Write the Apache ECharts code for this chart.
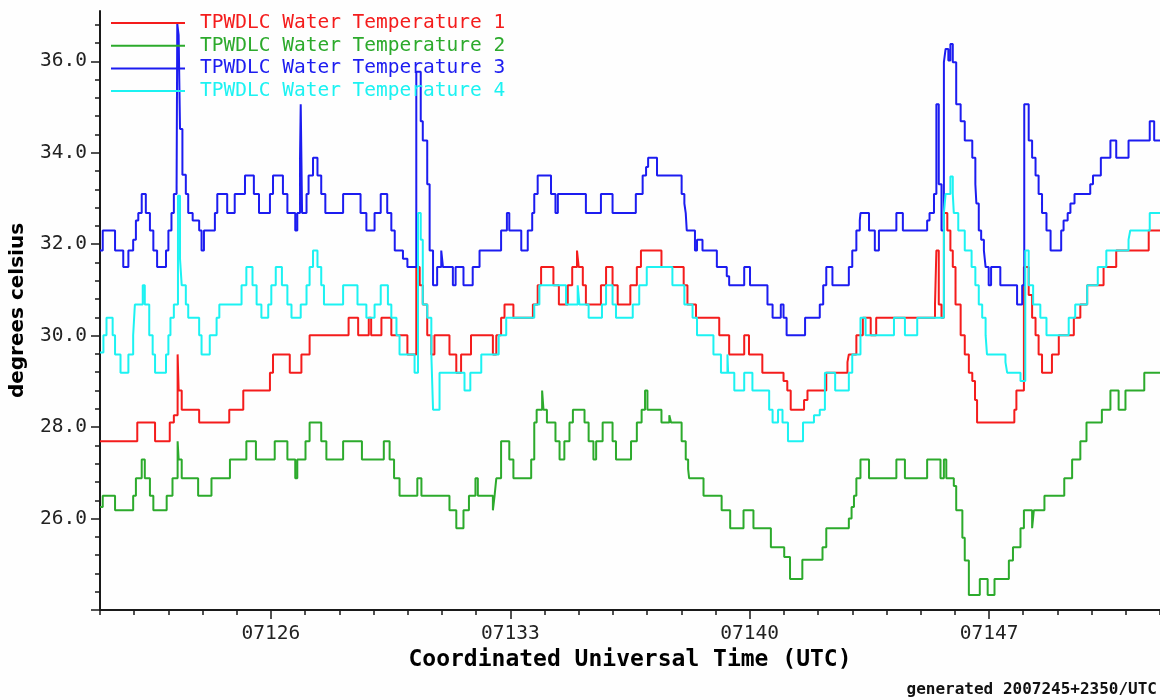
<!DOCTYPE html>
<html><head><meta charset="utf-8">
<script src="https://cdn.jsdelivr.net/npm/echarts@6/dist/echarts.min.js"></script>
<style>html,body{margin:0;padding:0;background:#fefefe}#chart{width:1160px;height:700px}</style>
</head><body><div id="chart"></div>
<script>
// ---- data: [day-of-year 2007, degrees celsius] ----
const seriesNames = ['TPWDLC Water Temperature 1','TPWDLC Water Temperature 2','TPWDLC Water Temperature 3','TPWDLC Water Temperature 4'];
const seriesColors = ['#f41c1c','#2caa2c','#1c1cf0','#1cf2f2'];

const temp1 = [[121.00,27.69],[122.09,28.10],[122.61,27.69],[123.04,28.10],[123.16,28.26],[123.27,29.59],[123.30,28.80],[123.39,28.38],[123.90,28.10],[124.78,28.38],[125.19,28.80],[125.97,29.19],[126.06,29.59],[126.55,29.19],[126.89,29.59],[127.13,30.01],[128.27,30.39],[128.55,30.01],[128.86,30.39],[128.93,30.01],[129.23,30.39],[129.52,30.01],[129.99,29.59],[130.25,31.50],[130.35,31.10],[130.44,30.68],[130.57,30.01],[130.69,29.59],[130.78,30.01],[131.22,29.59],[131.42,29.19],[131.56,29.59],[131.85,30.01],[132.49,29.59],[132.59,30.01],[132.73,30.39],[132.83,30.68],[133.09,30.39],[133.66,30.68],[133.80,31.10],[133.90,31.50],[134.26,31.10],[134.42,30.68],[134.68,31.10],[134.81,31.50],[134.95,31.86],[135.00,31.50],[135.12,31.10],[135.21,30.68],[135.65,31.10],[135.80,31.50],[135.99,31.10],[136.14,30.68],[136.51,31.10],[136.70,31.50],[136.82,31.86],[137.42,31.50],[138.07,31.10],[138.18,30.68],[138.43,30.39],[139.11,30.01],[139.40,29.59],[139.84,30.01],[139.98,29.59],[140.37,29.19],[140.99,29.01],[141.10,28.80],[141.20,28.38],[141.59,28.59],[141.69,28.80],[142.24,29.19],[142.86,29.42],[142.90,29.59],[143.12,30.01],[143.31,30.39],[143.54,30.01],[143.70,30.39],[145.42,30.68],[145.46,31.86],[145.53,30.68],[145.61,30.39],[145.68,32.68],[145.78,32.30],[145.87,31.86],[145.94,31.50],[146.02,30.68],[146.17,30.01],[146.29,29.59],[146.41,29.19],[146.51,29.01],[146.59,28.59],[146.65,28.10],[147.74,28.38],[147.80,28.80],[148.02,31.50],[148.16,30.89],[148.26,30.39],[148.36,30.01],[148.45,29.59],[148.55,29.19],[148.84,29.59],[149.04,30.01],[149.48,30.39],[149.67,30.68],[149.87,31.10],[150.35,31.50],[150.72,31.86],[151.67,32.30],[152.00,32.30]];

const temp2 = [[121.00,26.25],[121.08,26.50],[121.44,26.18],[121.97,26.50],[122.05,26.88],[122.22,27.29],[122.31,26.88],[122.46,26.50],[122.56,26.18],[122.95,26.50],[123.12,26.88],[123.27,27.69],[123.30,27.29],[123.39,26.88],[123.87,26.50],[124.26,26.88],[124.80,27.29],[125.28,27.69],[125.56,27.29],[126.11,27.69],[126.48,27.29],[126.71,26.88],[126.77,27.29],[127.01,27.69],[127.13,28.10],[127.47,27.69],[127.62,27.29],[128.11,27.69],[128.66,27.29],[129.30,27.69],[129.47,27.29],[129.60,26.88],[129.76,26.50],[130.28,26.88],[130.40,26.50],[131.22,26.18],[131.42,25.79],[131.63,26.18],[131.79,26.50],[131.98,26.88],[132.05,26.50],[132.49,26.18],[132.54,26.50],[132.59,26.88],[132.73,27.69],[132.97,27.29],[133.09,26.88],[133.61,27.29],[133.70,28.10],[133.77,28.38],[133.93,28.80],[133.97,28.38],[134.07,28.10],[134.32,27.69],[134.44,27.29],[134.58,27.69],[134.73,28.10],[134.83,28.38],[135.17,28.10],[135.29,27.69],[135.43,27.29],[135.51,27.69],[135.70,28.10],[135.99,27.69],[136.09,27.29],[136.53,27.69],[136.70,28.10],[136.84,28.38],[136.94,28.80],[137.01,28.38],[137.42,28.10],[137.65,28.26],[137.70,28.10],[138.01,27.69],[138.13,27.29],[138.20,27.08],[138.23,26.88],[138.65,26.50],[139.18,26.18],[139.43,25.79],[139.82,26.18],[140.11,25.79],[140.62,25.37],[141.01,25.16],[141.18,24.68],[141.54,25.10],[142.13,25.37],[142.24,25.79],[142.90,26.00],[142.98,26.25],[143.05,26.50],[143.12,26.88],[143.24,27.29],[143.49,26.88],[144.29,27.29],[144.54,26.88],[145.19,27.29],[145.58,26.88],[145.68,27.29],[145.75,26.88],[145.97,26.71],[146.04,26.18],[146.22,25.58],[146.29,25.08],[146.41,24.33],[146.73,24.68],[146.96,24.33],[147.16,24.68],[147.58,25.08],[147.70,25.37],[147.92,25.79],[148.02,26.18],[148.26,25.79],[148.31,26.18],[148.62,26.50],[149.20,26.88],[149.43,27.29],[149.67,27.69],[149.85,28.10],[150.30,28.38],[150.55,28.80],[150.79,28.38],[150.99,28.80],[151.54,29.19],[152.00,29.19]];

const temp3 = [[121.00,31.86],[121.08,32.30],[121.44,31.86],[121.68,31.50],[121.83,31.86],[121.97,32.10],[122.05,32.52],[122.12,32.68],[122.22,33.10],[122.34,32.68],[122.46,32.30],[122.56,31.86],[122.67,31.50],[122.93,31.86],[123.00,32.30],[123.09,32.68],[123.16,33.10],[123.24,33.30],[123.26,36.82],[123.30,36.57],[123.34,34.52],[123.41,33.52],[123.51,33.10],[123.58,32.68],[123.71,32.52],[123.90,32.30],[123.97,31.86],[124.04,32.30],[124.36,32.68],[124.43,33.10],[124.72,32.68],[124.94,33.10],[125.24,33.50],[125.50,33.10],[125.65,32.68],[125.97,33.10],[126.06,33.50],[126.35,33.10],[126.48,32.68],[126.71,32.30],[126.77,32.68],[126.85,33.89],[126.87,35.06],[126.91,32.68],[127.04,33.10],[127.10,33.50],[127.23,33.89],[127.36,33.50],[127.47,33.10],[127.59,32.68],[128.11,33.10],[128.62,32.68],[128.79,32.30],[129.03,32.68],[129.21,33.10],[129.40,32.68],[129.52,32.30],[129.62,31.86],[129.86,31.68],[129.99,31.50],[130.25,35.77],[130.38,34.69],[130.44,34.27],[130.57,33.31],[130.64,31.86],[130.74,31.10],[130.86,31.50],[130.98,31.86],[131.03,31.50],[131.32,31.10],[131.40,31.50],[131.63,31.10],[131.90,31.50],[132.10,31.86],[132.73,32.30],[132.90,32.68],[132.97,32.30],[133.32,31.86],[133.51,32.30],[133.64,32.68],[133.70,33.10],[133.80,33.50],[134.19,33.10],[134.32,32.68],[134.39,33.10],[135.21,32.68],[135.65,33.10],[135.99,32.68],[136.67,33.10],[136.87,33.50],[136.97,33.69],[137.03,33.89],[137.29,33.50],[138.01,33.10],[138.09,32.89],[138.13,32.68],[138.16,32.30],[138.40,31.86],[138.46,32.10],[138.62,31.86],[139.04,31.50],[139.33,31.30],[139.40,31.10],[139.84,31.50],[140.01,31.10],[140.52,30.68],[140.67,30.39],[140.91,30.68],[140.99,30.39],[141.08,30.01],[141.62,30.39],[142.05,30.68],[142.15,31.10],[142.24,31.50],[142.42,31.10],[142.90,31.50],[143.00,31.86],[143.12,32.30],[143.22,32.52],[143.24,32.68],[143.49,32.30],[143.66,31.86],[143.78,32.30],[144.29,32.68],[144.48,32.30],[145.19,32.52],[145.26,32.68],[145.39,33.10],[145.46,35.06],[145.53,33.31],[145.61,32.30],[145.68,35.98],[145.73,36.27],[145.81,36.02],[145.87,36.38],[145.94,35.98],[146.04,35.06],[146.17,34.69],[146.29,34.27],[146.51,33.89],[146.60,33.31],[146.63,32.89],[146.70,32.30],[146.77,32.10],[146.85,31.86],[146.90,31.50],[146.99,31.10],[147.06,31.50],[147.33,31.10],[147.82,30.68],[147.97,31.10],[148.03,35.06],[148.16,34.27],[148.26,33.89],[148.36,33.50],[148.45,33.10],[148.55,32.68],[148.68,32.30],[148.80,31.86],[149.11,32.30],[149.18,32.52],[149.30,32.68],[149.38,32.89],[149.50,33.10],[149.96,33.31],[150.04,33.50],[150.27,33.89],[150.55,34.27],[150.72,33.89],[151.08,34.27],[151.70,34.69],[151.83,34.27],[152.00,34.27]];

const temp4 = [[121.00,29.63],[121.10,30.01],[121.19,30.39],[121.37,30.01],[121.44,29.59],[121.60,29.19],[121.83,29.59],[121.97,30.01],[122.02,30.68],[122.25,31.10],[122.31,30.68],[122.44,30.01],[122.54,29.59],[122.61,29.19],[122.93,29.59],[123.00,30.01],[123.06,30.39],[123.16,30.68],[123.28,33.06],[123.34,31.68],[123.39,31.10],[123.51,30.68],[123.58,30.39],[123.90,30.01],[123.97,29.59],[124.21,30.01],[124.41,30.39],[124.49,30.68],[125.14,31.10],[125.28,31.50],[125.46,31.10],[125.58,30.68],[125.72,30.39],[125.92,30.68],[126.01,31.10],[126.14,31.50],[126.32,31.10],[126.48,30.68],[126.60,30.39],[126.87,30.68],[127.04,31.10],[127.13,31.50],[127.23,31.86],[127.36,31.50],[127.47,31.10],[127.55,30.68],[128.11,31.10],[128.53,30.68],[128.79,30.39],[129.03,30.68],[129.21,31.10],[129.42,30.68],[129.52,30.39],[129.67,30.01],[129.76,29.59],[130.20,29.19],[130.30,32.68],[130.38,32.10],[130.44,30.68],[130.57,30.39],[130.69,29.59],[130.74,28.38],[130.93,29.19],[131.66,28.80],[131.83,29.19],[132.15,29.59],[132.66,30.01],[132.88,30.39],[133.70,30.68],[133.85,31.10],[134.63,30.68],[134.97,31.10],[135.02,30.68],[135.29,30.39],[135.68,30.68],[135.80,31.10],[135.99,30.68],[136.09,30.39],[136.58,30.68],[136.77,31.10],[136.99,31.50],[137.74,31.10],[138.09,30.68],[138.33,30.39],[138.46,30.01],[138.94,29.59],[139.16,29.19],[139.35,29.59],[139.37,29.19],[139.55,28.80],[139.84,29.19],[140.08,28.80],[140.57,28.38],[140.67,28.10],[140.83,28.38],[140.96,28.10],[141.12,27.69],[141.56,28.10],[141.88,28.26],[142.05,28.38],[142.20,29.19],[142.50,28.80],[142.90,29.19],[143.00,29.59],[143.24,30.39],[143.39,30.01],[144.22,30.39],[144.54,30.01],[144.90,30.39],[145.68,32.68],[145.73,33.10],[145.87,33.48],[145.94,33.10],[145.97,32.68],[146.10,32.30],[146.29,31.86],[146.49,31.50],[146.60,31.10],[146.70,30.68],[146.80,30.39],[146.90,30.01],[146.94,29.59],[147.48,29.42],[147.53,29.19],[147.92,29.01],[148.06,31.86],[148.16,31.10],[148.29,30.68],[148.50,30.39],[148.68,30.01],[149.33,30.39],[149.52,30.68],[149.87,31.10],[150.18,31.50],[150.43,31.86],[151.08,32.10],[151.13,32.30],[151.70,32.68],[152.00,32.68]];

const seriesData = [temp1, temp2, temp3, temp4];

// ---- axes ----
const xRange = [121, 152];
const xTickValues = [126, 133, 140, 147];
const xTickLabels = ['07126', '07133', '07140', '07147'];
const yRange = [24, 37.1];
const yMajorTicks = [24, 26, 28, 30, 32, 34, 36];
const yLabelValues = [26, 28, 30, 32, 34, 36];
const yMinorStep = 0.4;
const footerText = 'generated 2007245+2350/UTC';

const xMinorTicks = [];
for (let d = xRange[0]; d <= xRange[1]; d++) xMinorTicks.push(d);
const yMinorTicks = [];
for (let k = 0; yRange[0] + k * yMinorStep <= 36.85; k++) yMinorTicks.push(+(yRange[0] + k * yMinorStep).toFixed(1));

const MONO = "'DejaVu Sans Mono', monospace";
const axisColor = '#1a1a1a';

const chart = echarts.init(document.getElementById('chart'), null, {renderer: 'canvas'});
chart.setOption({
  backgroundColor: '#fefefe',
  animation: false,
  grid: {left: 100, right: 0, top: 11, bottom: 90, containLabel: false},
  legend: {
    orient: 'vertical', left: 111, top: 13, padding: 0,
    itemWidth: 74, itemHeight: 2, itemGap: 2.7, icon: 'rect',
    selectedMode: false,
    textStyle: {fontFamily: MONO, fontSize: 19.5, lineHeight: 20, padding: [0, 0, 0, 10]},
    data: seriesNames.map((n, i) => ({name: n, textStyle: {color: seriesColors[i]}}))
  },
  xAxis: [
    {
      type: 'value', min: xRange[0], max: xRange[1], position: 'bottom',
      axisLine: {show: true, lineStyle: {color: axisColor, width: 2}},
      axisTick: {show: true, customValues: xMinorTicks, length: 5, lineStyle: {color: axisColor, width: 1.5}},
      axisLabel: {show: false}, splitLine: {show: false}
    },
    {
      type: 'value', min: xRange[0], max: xRange[1], position: 'bottom', offset: 0,
      axisLine: {show: false},
      axisTick: {show: true, customValues: xTickValues, length: 9, lineStyle: {color: axisColor, width: 1.5}},
      axisLabel: {show: true, customValues: xTickValues, margin: 14,
        formatter: v => xTickLabels[xTickValues.indexOf(v)] || '',
        fontFamily: MONO, fontSize: 19.5, color: '#222'},
      splitLine: {show: false},
      name: 'Coordinated Universal Time (UTC)', nameLocation: 'middle', nameGap: 37,
      nameTextStyle: {fontFamily: MONO, fontWeight: 'bold', fontSize: 23, color: '#000'}
    }
  ],
  yAxis: [
    {
      type: 'value', min: yRange[0], max: yRange[1], position: 'left',
      axisLine: {show: true, lineStyle: {color: axisColor, width: 2}},
      axisTick: {show: true, customValues: yMinorTicks, length: 5, lineStyle: {color: axisColor, width: 1.5}},
      axisLabel: {show: false}, splitLine: {show: false}
    },
    {
      type: 'value', min: yRange[0], max: yRange[1], position: 'left', offset: 0,
      axisLine: {show: false},
      axisTick: {show: true, customValues: yMajorTicks, length: 9, lineStyle: {color: axisColor, width: 1.5}},
      axisLabel: {show: true, customValues: yLabelValues, margin: 13,
        formatter: v => Number(v).toFixed(1),
        fontFamily: MONO, fontSize: 19.5, color: '#222'},
      splitLine: {show: false},
      name: 'degrees celsius', nameLocation: 'middle', nameGap: 72, nameRotate: 90,
      nameTextStyle: {fontFamily: "'DejaVu Sans', sans-serif", fontWeight: 'bold', fontSize: 20, color: '#000'}
    }
  ],
  series: seriesNames.map((n, i) => ({
    name: n, type: 'line', step: 'end', showSymbol: false, symbol: 'none',
    xAxisIndex: 0, yAxisIndex: 0,
    color: seriesColors[i],
    lineStyle: {color: seriesColors[i], width: 2},
    itemStyle: {color: seriesColors[i]},
    data: seriesData[i]
  })),
  graphic: [{
    type: 'text', right: 3, bottom: 2,
    style: {text: footerText, fill: '#111', font: "bold 16px 'DejaVu Sans Mono', monospace"}
  }]
});
</script>
</body></html>
